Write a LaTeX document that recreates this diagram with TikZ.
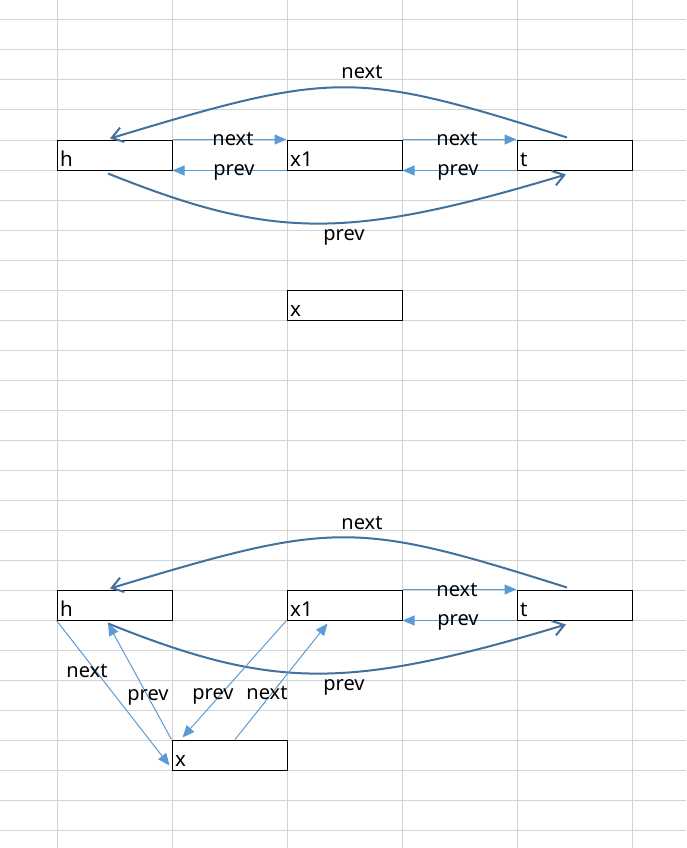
\documentclass[tikz,border=0pt]{standalone}
\usepackage{fontspec}
\setmainfont{Noto Sans}
\usetikzlibrary{arrows.meta,calc}
\definecolor{thinblue}{HTML}{5B9BD5}
\definecolor{curveblue}{HTML}{41719C}
\definecolor{gridgray}{HTML}{D4D4D4}
\begin{document}
\begin{tikzpicture}[x=1pt,y=-1pt,
  gridline/.style={gridgray,line width=1pt},
  box/.style={draw=black,fill=white,line width=1pt,minimum width=115pt,minimum height=30pt,inner sep=0pt},
  boxtext/.style={anchor=base west,inner sep=0pt,xshift=3.5pt,yshift=4.5pt,font=\fontsize{20.5}{22}\selectfont},
  lbl/.style={anchor=base,inner sep=0pt,font=\fontsize{20}{22}\selectfont},
  thinarrow/.style={thinblue,line width=1pt,-{Triangle[length=12pt,width=10pt]}},
  curvearrow/.style={curveblue,line width=2pt,-{Straight Barb[length=11pt,width=15pt,line width=2pt]}}
]
\useasboundingbox (0,0) rectangle (686,848);
\fill[white] (0,0) rectangle (686,848);
\foreach \x in {57,172,287,402,517,632} \draw[gridline] (\x,0) -- (\x,848);
\foreach \y in {20,50,...,830} \draw[gridline] (0,\y) -- (686,\y);

% ---------- top section ----------
\node[box,label={[boxtext]south west:h}]  (h1) at (114.5,155) {};
\node[box,label={[boxtext]south west:x1}] (xa) at (344.5,155) {};
\node[box,label={[boxtext]south west:t}]  (t1) at (574.5,155) {};
\node[box,label={[boxtext]south west:x}]  (xn) at (344.5,305) {};

\draw[thinarrow] (h1.north east) -- (xa.north west);
\draw[thinarrow] (xa.south west) -- (h1.south east);
\draw[thinarrow] (xa.north east) -- (t1.north west);
\draw[thinarrow] (t1.south west) -- (xa.south east);

\draw[curvearrow] ($(t1.north)+(-7.5,-2)$) .. controls +(-212,-67) and +(225,-68) .. ($(h1.north)+(-4.5,-1)$);
\draw[curvearrow] ($(h1.south)+(-6.5,3)$) .. controls +(165,66) and +(-220,66) .. ($(t1.south)+(-8.5,4)$);

\node[lbl] (l1) at (233,146) {next};
\node[lbl] (l2) at (234,175) {prev};
\node[lbl] (l3) at (457,146) {next};
\node[lbl] (l4) at (458,175) {prev};
\node[lbl] (l5) at (362,79) {next};
\node[lbl] (l6) at (344,240) {prev};

% ---------- bottom section ----------
\node[box,label={[boxtext]south west:h}]  (h2) at (114.5,605) {};
\node[box,label={[boxtext]south west:x1}] (xb) at (344.5,605) {};
\node[box,label={[boxtext]south west:t}]  (t2) at (574.5,605) {};
\node[box,label={[boxtext]south west:x}]  (x2) at (229.5,755) {};

\draw[thinarrow] (xb.north east) -- (t2.north west);
\draw[thinarrow] (t2.south west) -- (xb.south east);

\draw[curvearrow] ($(t2.north)+(-7.5,-2)$) .. controls +(-212,-67) and +(225,-68) .. ($(h2.north)+(-4.5,-1)$);
\draw[curvearrow] ($(h2.south)+(-6.5,3)$) .. controls +(165,66) and +(-220,66) .. ($(t2.south)+(-8.5,4)$);

\draw[thinarrow] (h2.south west) -- ($(x2.south west)+(-2,-5)$);
\draw[thinarrow] (x2.north west) -- ($(h2.south)+(-6.5,3)$);
\draw[thinarrow] (xb.south west) -- ($(x2.north west)+(11,-2)$);
\draw[thinarrow] ($(x2.north)+(5.5,0)$) -- ($(xb.south west)+(41,3)$);

\node[lbl] (m1) at (362,529) {next};
\node[lbl] (m2) at (457,596) {next};
\node[lbl] (m3) at (458,625) {prev};
\node[lbl] (m4) at (344,690) {prev};
\node[lbl] (m5) at (87,677) {next};
\node[lbl] (m6) at (148,700) {prev};
\node[lbl] (m7) at (213,699) {prev};
\node[lbl] (m8) at (267,699) {next};
\end{tikzpicture}
\end{document}
